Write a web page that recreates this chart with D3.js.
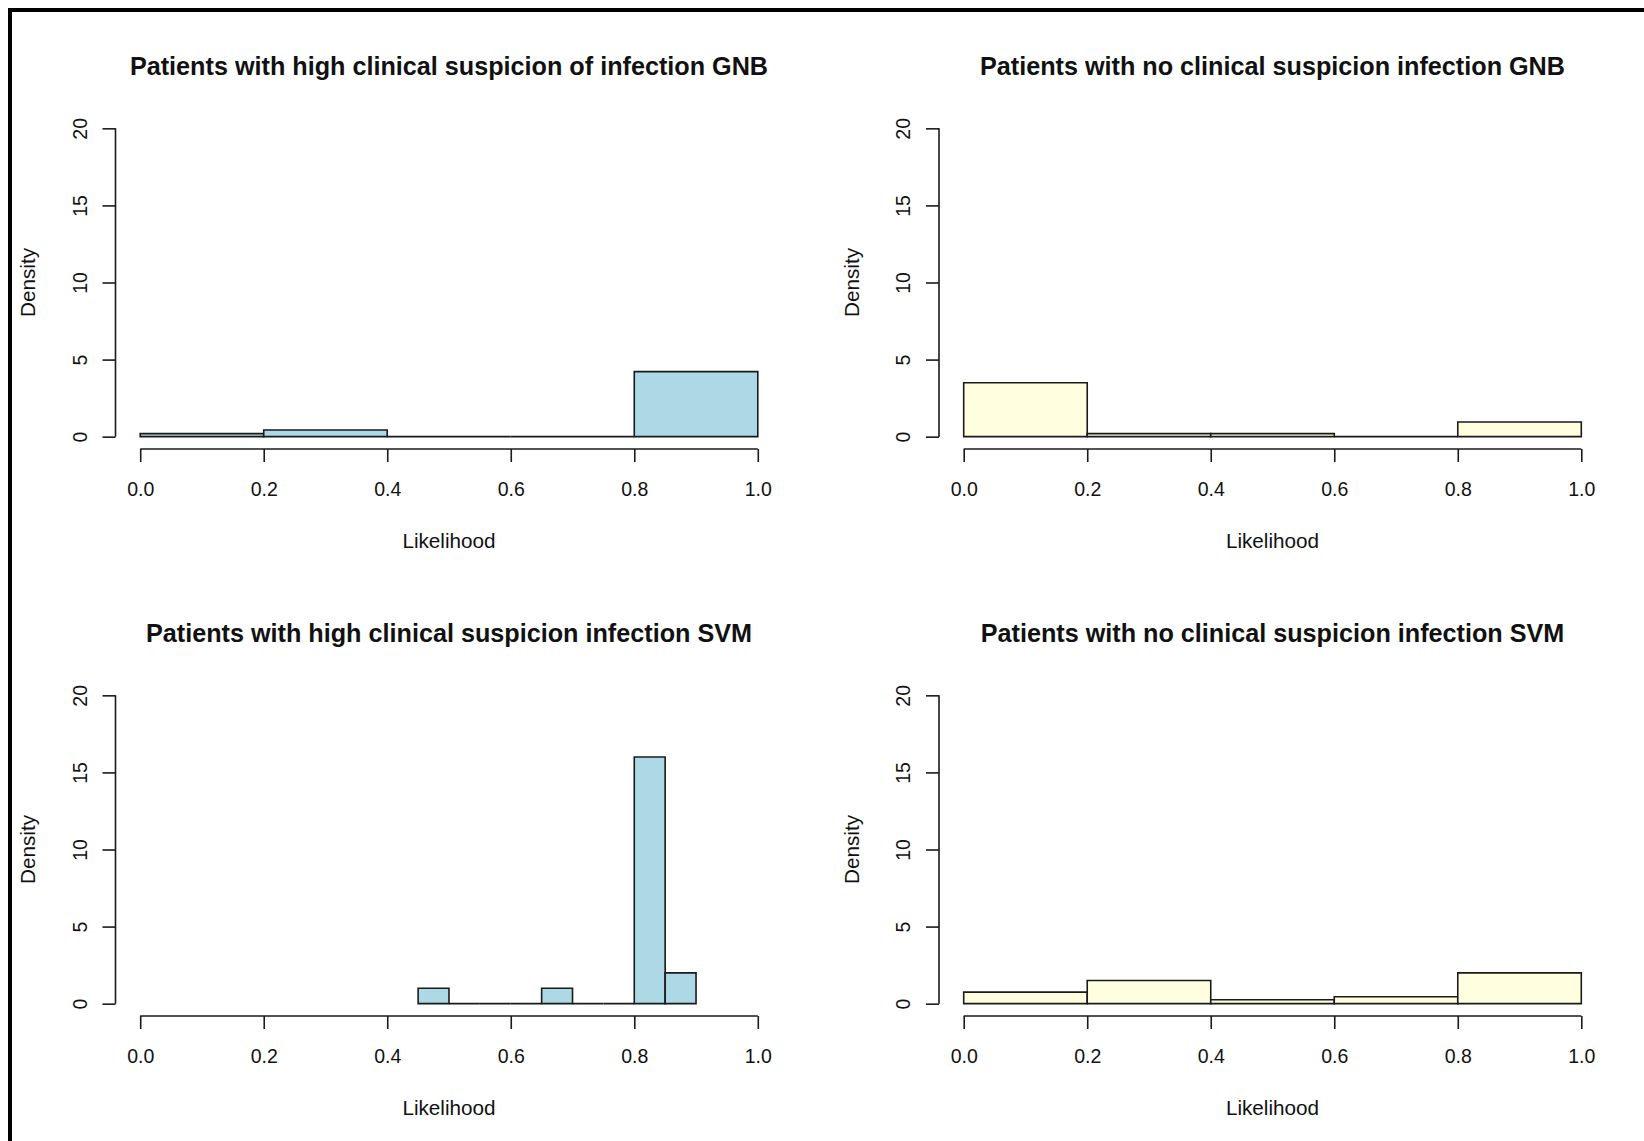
<!DOCTYPE html>
<html>
<head>
<meta charset="utf-8">
<script src="https://cdn.jsdelivr.net/npm/d3@7"></script>
<style>
  html, body { margin: 0; padding: 0; background: #fff; }
  svg { display: block; }
  text { font-family: "Liberation Sans", Arial, sans-serif; fill: #111; }
</style>
</head>
<body>
<svg id="chart" width="1644" height="1141"></svg>
<script>
// Panel titles, in reading order
const titles = [
  "Patients with high clinical suspicion of infection GNB",
  "Patients with no clinical suspicion infection GNB",
  "Patients with high clinical suspicion infection SVM",
  "Patients with no clinical suspicion infection SVM"
];

// Axis ticks shared by all panels
const xTicks = [0, 0.2, 0.4, 0.6, 0.8, 1.0];
const yTicks = [0, 5, 10, 15, 20];
const xLabel = "Likelihood";
const yLabel = "Density";

// Histogram breaks and densities
const gnbBreaks = [0, 0.2, 0.4, 0.6, 0.8, 1.0];
const gnbHighDensity = [0.2, 0.43, 0, 0, 4.22];
const gnbNoDensity = [3.5, 0.2, 0.2, 0, 0.95];

const svmHighBreaks = [0.45, 0.5, 0.55, 0.6, 0.65, 0.7, 0.75, 0.8, 0.85, 0.9];
const svmHighDensity = [1, 0, 0, 0, 1, 0, 0, 16, 2];

const svmNoBreaks = [0, 0.2, 0.4, 0.6, 0.8, 1.0];
const svmNoDensity = [0.75, 1.5, 0.25, 0.45, 2.0];

const fills = ["lightblue", "lightyellow", "lightblue", "lightyellow"];

const panels = [
  { title: titles[0], breaks: gnbBreaks, density: gnbHighDensity, fill: fills[0], col: 0, row: 0 },
  { title: titles[1], breaks: gnbBreaks, density: gnbNoDensity, fill: fills[1], col: 1, row: 0 },
  { title: titles[2], breaks: svmHighBreaks, density: svmHighDensity, fill: fills[2], col: 0, row: 1 },
  { title: titles[3], breaks: svmNoBreaks, density: svmNoDensity, fill: fills[3], col: 1, row: 1 }
];

const svg = d3.select("#chart");
const ink = "#1a1a1a";
const lw = 1.6;

// Outer frame (left and top edges)
svg.append("line").attr("x1", 10).attr("y1", 8).attr("x2", 10).attr("y2", 1141)
  .attr("stroke", "#000").attr("stroke-width", 4);
svg.append("line").attr("x1", 8).attr("y1", 10).attr("x2", 1644).attr("y2", 10)
  .attr("stroke", "#000").attr("stroke-width", 4);

// Plot-region geometry of one panel (R-style 4% axis extension)
const plotLeft = 115.5, plotRight = 782.5, plotTop = 116, plotBottom = 449;
const colStep = 823.5, rowStep = 567;

panels.forEach(p => {
  const g = svg.append("g")
    .attr("transform", `translate(${p.col * colStep},${p.row * rowStep})`);

  const x = d3.scaleLinear().domain([-0.04, 1.04]).range([plotLeft, plotRight]);
  const y = d3.scaleLinear().domain([-0.8, 20.8]).range([plotBottom, plotTop]);

  // Bars, including zero-height bins drawn as a flat outline
  const bins = p.density.map((d, i) => ({ x0: p.breaks[i], x1: p.breaks[i + 1], d }));
  g.append("g").selectAll("path").data(bins).join("path")
    .attr("d", b => `M${x(b.x0)},${y(0)}V${y(b.d)}H${x(b.x1)}V${y(0)}Z`)
    .attr("fill", p.fill)
    .attr("stroke", ink)
    .attr("stroke-width", lw)
    .attr("stroke-linejoin", "miter");

  // Y axis
  const ya = g.append("g").attr("transform", `translate(${plotLeft},0)`)
    .call(d3.axisLeft(y).tickValues(yTicks).tickSize(13).tickFormat(d3.format("d")));
  ya.select(".domain").remove();
  ya.append("line").attr("x1", 0).attr("x2", 0).attr("y1", y(0)).attr("y2", y(20))
    .attr("stroke", ink).attr("stroke-width", lw);
  ya.selectAll(".tick line").attr("stroke", ink).attr("stroke-width", lw);
  ya.selectAll(".tick text")
    .attr("x", null).attr("dy", null)
    .attr("text-anchor", "middle")
    .attr("transform", "translate(-29,0) rotate(-90)")
    .attr("fill", "#111")
    .style("font-size", "19.5px");

  // X axis
  const xa = g.append("g").attr("transform", `translate(0,${plotBottom})`)
    .call(d3.axisBottom(x).tickValues(xTicks).tickSize(13).tickFormat(d3.format(".1f")));
  xa.select(".domain").remove();
  xa.append("line").attr("x1", x(0)).attr("x2", x(1)).attr("y1", 0).attr("y2", 0)
    .attr("stroke", ink).attr("stroke-width", lw);
  xa.selectAll(".tick line").attr("stroke", ink).attr("stroke-width", lw);
  xa.selectAll(".tick text")
    .attr("dy", null).attr("y", 47.4)
    .attr("fill", "#111")
    .style("font-size", "19.5px");

  const cx = (plotLeft + plotRight) / 2;

  // Title
  g.append("text").attr("x", cx).attr("y", 74.5)
    .attr("text-anchor", "middle")
    .style("font-size", "25.2px").style("font-weight", "bold")
    .text(p.title);

  // Axis titles
  g.append("text").attr("x", cx).attr("y", 547.8)
    .attr("text-anchor", "middle").style("font-size", "20.7px")
    .text(xLabel);
  g.append("text")
    .attr("transform", `translate(35,${(y(0) + y(20)) / 2}) rotate(-90)`)
    .attr("text-anchor", "middle").style("font-size", "20.7px")
    .text(yLabel);
});
</script>
</body>
</html>
